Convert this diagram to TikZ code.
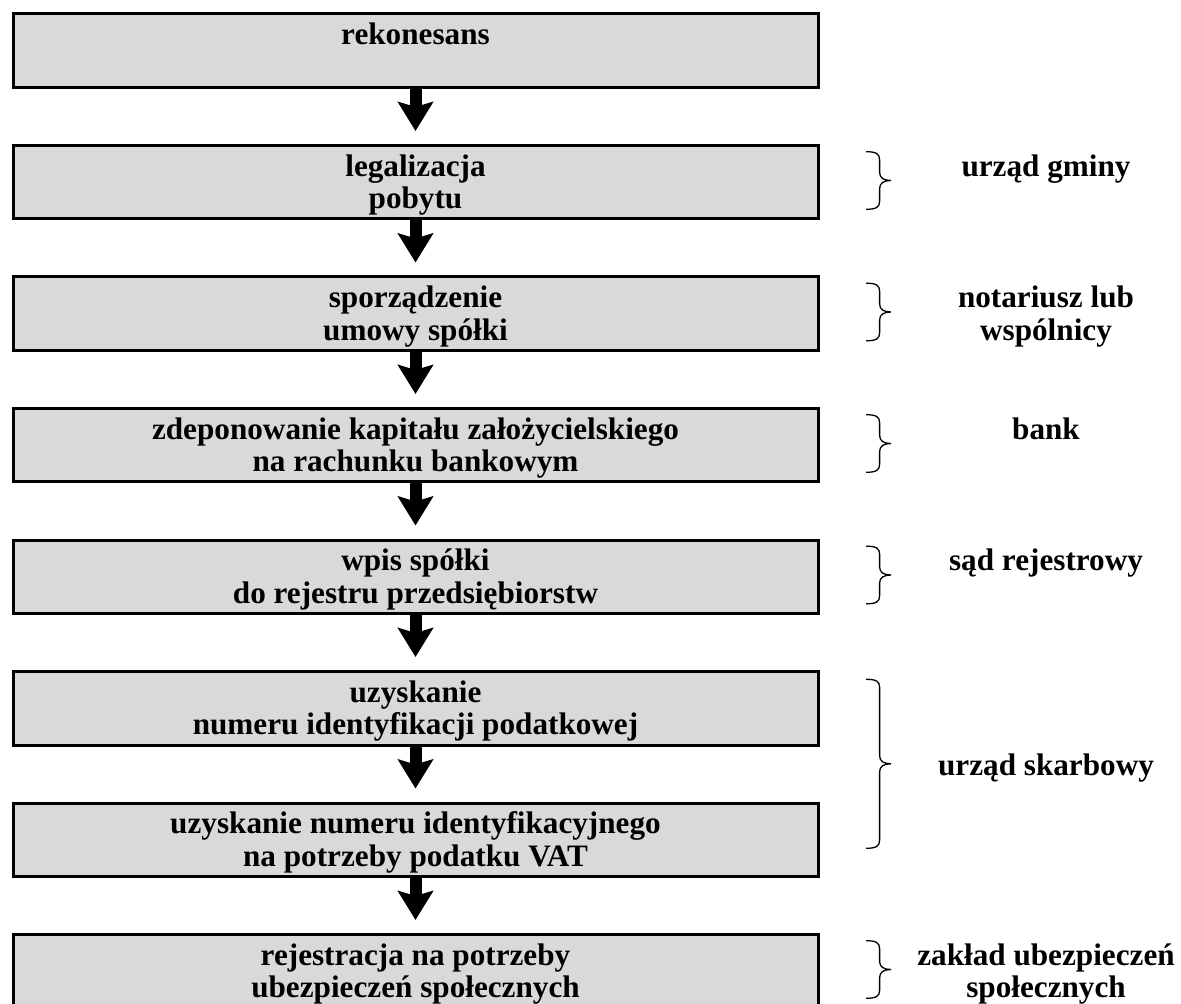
\documentclass[tikz,border=0pt]{standalone}
\usepackage{fontspec}
\setmainfont{Liberation Serif}
\usetikzlibrary{arrows.meta,calc}
\definecolor{boxfill}{RGB}{217,217,217}
\begin{document}
\begin{tikzpicture}[x=0.5pt,y=0.5pt,
  every node/.style={outer sep=0pt},
  % two text lines: the box is centred 13.25pt above the second baseline
  txt/.style={font=\bfseries\fontsize{15.6}{16.25}\selectfont, align=center,
    text height=26.5pt, text depth=0pt},
  stage/.style={txt, draw=black, line width=1.5pt, fill=boxfill,
    minimum width=402.5pt, minimum height=36.75pt, inner sep=0pt},
  office/.style={txt, inner sep=0pt},
  flow/.style={line width=6pt, shorten >=7.25pt,
    -{Stealth[length=14.5pt, width=17.5pt, inset=2.5pt]}},
  bracket/.style={line width=0.65pt, to path={
    let \p1=(\tikztostart), \p2=(\tikztotarget),
        \p3=($(\tikztostart)!0.5!(\tikztotarget)$) in
    (\x1,\y1) .. controls (\x1+5pt,\y1) and (\x1+6.8pt,\y1-1pt) .. (\x1+6.8pt,\y1-4pt)
    -- (\x1+6.8pt,\y3+4pt) .. controls (\x1+6.8pt,\y3+1.2pt) and (\x1+9pt,\y3) .. (\x1+12.5pt,\y3)
    .. controls (\x1+9pt,\y3) and (\x1+6.8pt,\y3-1.2pt) .. (\x1+6.8pt,\y3-4pt)
    -- (\x1+6.8pt,\y2+4pt) .. controls (\x1+6.8pt,\y2+1pt) and (\x1+5pt,\y2) .. (\x2,\y2)}}
]
\useasboundingbox (0,0) rectangle (1181,-1004);
\clip (0,0) rectangle (1181,-1004);

% process steps
\node[stage] (b1) at (415.5,-50.75)  {rekonesans\\\strut};
\node[stage] (b2) at (415.5,-182.25) {legalizacja\\pobytu};
\node[stage] (b3) at (415.5,-313.75) {sporządzenie\\umowy spółki};
\node[stage] (b4) at (415.5,-445.25) {zdeponowanie kapitału założycielskiego\\na rachunku bankowym};
\node[stage] (b5) at (415.5,-576.75) {wpis spółki\\do rejestru przedsiębiorstw};
\node[stage] (b6) at (415.5,-708.25) {uzyskanie\\numeru identyfikacji podatkowej};
\node[stage] (b7) at (415.5,-839.75) {uzyskanie numeru identyfikacyjnego\\na potrzeby podatku VAT};
\node[stage] (b8) at (415.5,-971.25) {rejestracja na potrzeby\\ubezpieczeń społecznych};

% arrows between steps
\draw[flow] (b1) -- (b2);
\draw[flow] (b2) -- (b3);
\draw[flow] (b3) -- (b4);
\draw[flow] (b4) -- (b5);
\draw[flow] (b5) -- (b6);
\draw[flow] (b6) -- (b7);
\draw[flow] (b7) -- (b8);

% braces towards the responsible offices
\draw[bracket] ([xshift=24pt,yshift=-3.1pt]b2.north east) to ([xshift=24pt,yshift=4.85pt]b2.south east);
\draw[bracket] ([xshift=24pt,yshift=-3.1pt]b3.north east) to ([xshift=24pt,yshift=4.85pt]b3.south east);
\draw[bracket] ([xshift=24pt,yshift=-3.1pt]b4.north east) to ([xshift=24pt,yshift=4.85pt]b4.south east);
\draw[bracket] ([xshift=24pt,yshift=-3.1pt]b5.north east) to ([xshift=24pt,yshift=4.85pt]b5.south east);
\draw[bracket] ([xshift=24pt,yshift=-3.9pt]b6.north east) to ([xshift=24pt,yshift=14.1pt]b7.south east);
\draw[bracket] ([xshift=24pt,yshift=-3.1pt]b8.north east) to ([xshift=24pt,yshift=4.85pt]b8.south east);

% responsible offices
\node[office] (o2) at (1046,-182.25) {urząd gminy\\\strut};
\node[office] (o3) at (1046,-313.75) {notariusz lub\\wspólnicy};
\node[office] (o4) at (1046,-445.25) {bank\\\strut};
\node[office] (o5) at (1046,-576.75) {sąd rejestrowy\\\strut};
\node[office, anchor=base] (o6) at (1046,-775) {urząd skarbowy};
\node[office] (o8) at (1046,-971.25) {zakład ubezpieczeń\\społecznych};
\end{tikzpicture}
\end{document}
